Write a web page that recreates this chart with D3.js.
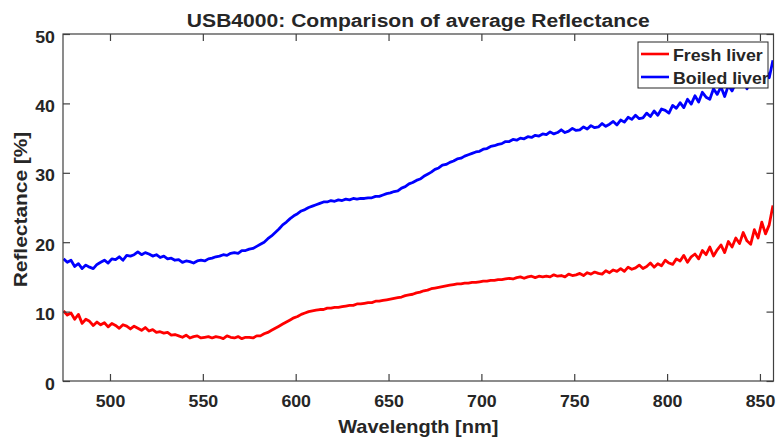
<!DOCTYPE html>
<html><head><meta charset="utf-8">
<script src="https://cdn.jsdelivr.net/npm/d3@7"></script>
<style>
body{margin:0;background:#fff}
svg{display:block}
text{font-family:"Liberation Sans",Arial,sans-serif;font-weight:bold;fill:#262626}
</style>
</head><body><svg id="c" width="777" height="439"></svg>
<script>
const title = "USB4000: Comparison of average Reflectance";
const xLabel = "Wavelength [nm]";
const yLabel = "Reflectance [%]";
const seriesNames = ["Fresh liver", "Boiled liver"];
const seriesColors = ["#ff0000", "#0000ff"];
const wavelengthStart = 475, wavelengthStep = 2;
const freshLiver = [
10.1,9.5,9.8,8.9,9.6,8.3,8.9,8.6,8.0,8.5,
8.1,8.4,7.8,8.3,8.0,7.6,8.1,7.9,7.5,7.9,
7.6,7.3,7.7,7.2,7.4,7.0,7.1,6.9,7.0,6.6,
6.7,6.5,6.3,6.6,6.2,6.4,6.5,6.2,6.3,6.4,
6.2,6.4,6.3,6.1,6.5,6.3,6.2,6.4,6.1,6.3,
6.3,6.2,6.5,6.5,6.8,7.0,7.3,7.6,7.9,8.2,
8.5,8.8,9.1,9.3,9.6,9.8,10.0,10.1,10.2,10.3,
10.3,10.5,10.5,10.6,10.6,10.7,10.8,10.9,10.9,11.1,
11.1,11.2,11.3,11.3,11.5,11.5,11.6,11.7,11.8,11.9,
12.0,12.1,12.3,12.4,12.5,12.7,12.8,13.0,13.1,13.3,
13.4,13.5,13.6,13.7,13.8,13.9,14.0,14.0,14.1,14.1,
14.2,14.2,14.3,14.4,14.4,14.5,14.5,14.6,14.6,14.7,
14.8,14.7,14.9,15.0,14.8,15.0,15.1,14.9,15.1,15.0,
15.1,15.0,15.3,15.1,15.2,15.0,15.4,15.2,15.3,15.5,
15.2,15.6,15.4,15.7,15.5,15.4,15.9,15.6,16.0,15.8,
16.2,15.8,16.4,16.1,16.3,16.7,16.2,16.5,17.0,16.4,
16.9,16.6,17.4,17.0,16.8,17.6,17.3,18.1,17.1,17.9,
18.3,17.6,18.8,18.2,19.3,18.0,18.9,19.6,18.5,20.1,
19.3,20.6,19.8,21.4,20.2,19.7,21.8,20.6,22.9,21.2,
22.5,25.3];
const boiledLiver = [
17.6,17.1,17.4,16.5,16.9,16.2,16.7,16.4,16.2,16.8,
17.1,17.4,17.0,17.6,17.5,17.9,17.4,18.1,18.0,18.2,
18.6,18.2,18.5,18.3,18.0,18.2,17.8,18.0,17.6,17.7,
17.4,17.5,17.1,17.3,17.2,17.0,17.3,17.4,17.3,17.6,
17.7,17.9,18.0,18.2,18.1,18.4,18.5,18.4,18.8,18.8,
19.0,19.1,19.4,19.7,20.0,20.5,20.9,21.4,21.9,22.5,
22.9,23.4,23.8,24.1,24.5,24.7,25.0,25.2,25.4,25.6,
25.8,25.8,26.0,25.9,26.1,26.0,26.2,26.1,26.3,26.2,
26.3,26.3,26.4,26.4,26.6,26.6,26.8,27.0,27.1,27.3,
27.4,27.8,28.0,28.4,28.6,28.9,29.1,29.5,29.8,30.1,
30.5,30.7,31.1,31.2,31.5,31.7,32.0,32.1,32.4,32.6,
32.8,33.0,33.1,33.4,33.5,33.8,33.9,34.1,34.2,34.5,
34.5,34.8,34.7,35.0,34.9,35.2,35.1,35.4,35.3,35.6,
35.5,35.9,35.6,35.8,36.2,35.8,36.0,36.4,36.1,36.2,
36.6,36.3,36.8,36.5,36.6,37.1,36.7,37.0,37.4,36.9,
37.6,37.3,38.0,37.7,38.3,37.8,37.9,38.6,38.1,38.9,
38.3,39.2,39.0,38.6,39.7,39.3,40.1,39.4,40.6,39.9,
41.1,40.2,41.6,40.9,40.6,42.1,41.3,42.4,41.0,42.6,
41.8,43.0,42.5,43.6,42.1,43.2,44.3,42.8,44.0,45.0,
43.7,46.2];
const xTicks = [500, 550, 600, 650, 700, 750, 800, 850];
const yTicks = [0, 10, 20, 30, 40, 50];
const xDomain = [474.7, 857.3];
const yDomain = [0, 50];

const W = 777, H = 439;
const m = {left: 63, right: 3.5, top: 34, bottom: 58};
const pw = W - m.left - m.right, ph = H - m.top - m.bottom;
const SX = 1.11; // horizontal text stretch
const axisColor = "#404040";

const svg = d3.select("#c");
const x = d3.scaleLinear().domain(xDomain).range([m.left, m.left + pw]);
const y = d3.scaleLinear().domain(yDomain).range([m.top + ph, m.top]);

svg.append("defs").append("clipPath").attr("id", "clip")
  .append("rect").attr("x", m.left).attr("y", m.top).attr("width", pw).attr("height", ph);

// lines
const line = d3.line()
  .x((d, i) => x(wavelengthStart + i * wavelengthStep))
  .y(d => y(d));
const series = [freshLiver, boiledLiver];
const gLines = svg.append("g").attr("clip-path", "url(#clip)");
series.forEach((s, k) => {
  gLines.append("path").datum(s).attr("d", line)
    .attr("fill", "none").attr("stroke", seriesColors[k])
    .attr("stroke-width", 2.8).attr("stroke-linejoin", "round");
});

function styleAxis(g) {
  g.selectAll("path,line").attr("stroke", axisColor).attr("stroke-width", 1.2);
  g.select(".domain").remove();
}
// bottom
const gb = svg.append("g").attr("transform", `translate(0,${m.top + ph})`)
  .call(d3.axisBottom(x).tickValues(xTicks).tickSizeInner(-7).tickSizeOuter(0).tickFormat(d3.format("d")));
styleAxis(gb);
gb.selectAll("text").attr("y", 26).attr("dy", null).attr("font-size", 16)
  .attr("transform", `scale(${SX},1)`).attr("fill", "#262626").attr("font-family", null);
// top
const gt = svg.append("g").attr("transform", `translate(0,${m.top})`)
  .call(d3.axisTop(x).tickValues(xTicks).tickSizeInner(-7).tickSizeOuter(0).tickFormat(""));
styleAxis(gt);
// left
const gl = svg.append("g").attr("transform", `translate(${m.left},0)`)
  .call(d3.axisLeft(y).tickValues(yTicks).tickSizeInner(-7).tickSizeOuter(0).tickFormat(d3.format("d")));
styleAxis(gl);
gl.selectAll("text").attr("x", -7.3).attr("y", 8).attr("dy", null).attr("font-size", 16)
  .attr("transform", `scale(${SX},1)`).attr("fill", "#262626").attr("font-family", null);
// right
const gr = svg.append("g").attr("transform", `translate(${m.left + pw},0)`)
  .call(d3.axisRight(y).tickValues(yTicks).tickSizeInner(-7).tickSizeOuter(0).tickFormat(""));
styleAxis(gr);

// box
svg.append("rect").attr("x", m.left).attr("y", m.top).attr("width", pw).attr("height", ph)
  .attr("fill", "none").attr("stroke", axisColor).attr("stroke-width", 1.2);

// title
svg.append("text").attr("transform", `translate(${m.left + pw / 2},27) scale(${SX},1)`)
  .attr("text-anchor", "middle").attr("font-size", 19).text(title);
// x label
svg.append("text").attr("transform", `translate(${m.left + pw / 2},433) scale(${SX},1)`)
  .attr("text-anchor", "middle").attr("font-size", 18).text(xLabel);
// y label
svg.append("text").attr("transform", `translate(27,${m.top + ph / 2 + 2}) rotate(-90) scale(1.1,1)`)
  .attr("text-anchor", "middle").attr("font-size", 19).text(yLabel);

// legend
const lg = svg.append("g").attr("transform", "translate(638,42)");
lg.append("rect").attr("width", 130).attr("height", 46).attr("fill", "#fff")
  .attr("stroke", "#262626").attr("stroke-width", 1);
seriesNames.forEach((n, k) => {
  const yy = 12 + k * 23;
  lg.append("line").attr("x1", 3).attr("x2", 31).attr("y1", yy).attr("y2", yy)
    .attr("stroke", seriesColors[k]).attr("stroke-width", 2.6);
  lg.append("text").attr("transform", `translate(35,${yy + 6.5}) scale(${SX},1)`)
    .attr("font-size", 16).attr("fill", "#000").text(n);
});
</script></body></html>
